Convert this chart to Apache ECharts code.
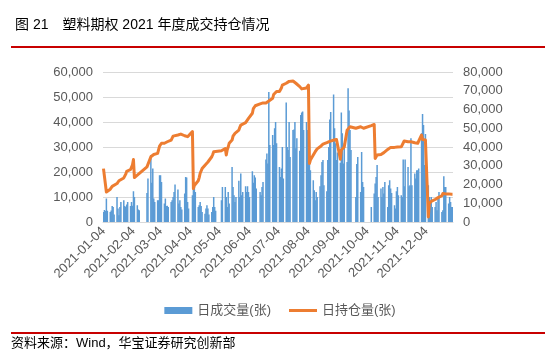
<!DOCTYPE html>
<html><head><meta charset="utf-8">
<script src="https://cdn.jsdelivr.net/npm/echarts/dist/echarts.min.js"></script>
<style>html,body{margin:0;padding:0;background:#fff}#c{width:560px;height:357px}</style>
</head><body><div id="c"></div>
<script>
// Trading days (day of month) for each month of 2021
const tdJan=[4,5,6,7,8,11,12,13,14,15,18,19,20,21,22,25,26,27,28,29];
const tdFeb=[1,2,3,4,5,8,9,10,18,19,22,23,24,25,26];
const tdMar=[1,2,3,4,5,8,9,10,11,12,15,16,17,18,19,22,23,24,25,26,29,30,31];
const tdApr=[1,2,6,7,8,9,12,13,14,15,16,19,20,21,22,23,26,27,28,29,30];
const tdMay=[6,7,10,11,12,13,14,17,18,19,20,21,24,25,26,27,28,31];
const tdJun=[1,2,3,4,7,8,9,10,11,15,16,17,18,21,22,23,24,25,28,29,30];
const tdJul=[1,2,5,6,7,8,9,12,13,14,15,16,19,20,21,22,23,26,27,28,29,30];
const tdAug=[2,3,4,5,6,9,10,11,12,13,16,17,18,19,20,23,24,25,26,27,30,31];
const tdSep=[1,2,3,6,7,8,9,10,13,14,15,16,17,22,23,24,27,28,29,30];
const tdOct=[8,11,12,13,14,15,18,19,20,21,22,25,26,27,28,29];
const tdNov=[1,2,3,4,5,8,9,10,11,12,15,16,17,18,19,22,23,24,25,26,29,30];
const tdDec=[1,2,3,6,7,8,9,10,13,14,15,16,17,20,21,22,23,24,27,28,29,30,31];

// 日成交量(张)
const volJan=[4000,4800,4400,9400,4500,4000,4600,6400,6000,3000,10000,5400,2700,6000,8000,8700,6400,6000,7000,8000];
const volFeb=[6400,8000,6500,12300,10000,6700,5000,4700,11600,17400,26800,15700,21400,9400,8000];
const volMar=[8700,8700,18700,18700,16000,7400,9400,6400,6500,6000,8000,8700,10000,12000,15000,13000,7400,8700,6000,5000,11400,18000,17800];
const volApr=[8000,5400,10700,13400,14700,12000,6000,6700,8000,6400,4000,3300,5400,6700,5400,3000,4000,6000,10000,6000,4500];
const volMay=[8700,14000,14000,10000,6000,12000,7400,22000,14000,10700,8000,10000,16500,10000,19400,10700,12000,14300];
const volJun=[12000,14300,12000,10000,20300,15700,18700,17800,13400,12000,10700,14000,16000,25000,27400,23400,52000,30800,34800,30800,37500];
const volJul=[40000,31500,22000,18000,21400,30000,17400,47800,30000,28800,40000,26000,36800,37000,40000,29500,33500,28500,42800,43800,44200,36800];
const volAug=[40000,36800,36000,32800,20700,16700,12700,8700,12000,10000,14300,18700,24000,24800,14700,12300,24800,30000,41000,44000,51000,37500];
const volSep=[31500,24800,27800,23700,43800,35500,23400,31500,24000,53500,44600,36800,28800,10000,23200,26000,12000,28000,16000,14000];
const volOct=[6000,11400,15400,18000,22800,10000,13400,10000,14000,11400,16000,6000,14700,16700,13400,11600];
const volNov=[6700,5400,12300,14000,10700,10700,10000,25000,14300,25000,22000,14300,14700,33500,14700,19400,17400,20700,20700,21400,35500,43200];
const volDec=[38800,22800,35200,14700,10000,8000,10000,6000,6000,8000,4700,10000,12000,4000,4700,18300,14000,14000,7400,10000,8000,6000,6000];

// 日持仓量(张)
const oiJan=[28500,28800,29200,16000,16500,17500,18000,19000,19600,20000,20500,21500,22000,22600,22600,23500,24000,25500,27000,27600];
const oiFeb=[28000,28500,30500,33300,23700,25000,25500,25900,29400,29000,34800,35200,35700,36000,36600];
const oiMar=[36600,37000,40500,41000,42000,42000,42300,42300,42800,43000,43700,44500,45800,46000,46400,46400,46400,46900,46900,46500,46000,46000,45500];
const oiApr=[45500,46000,48200,17800,19500,20500,22000,23700,26000,26800,28500,30300,30500,31200,32000,33000,34800,36000,37500,37500,37800];
const oiMay=[38000,38000,39200,35700,38500,40000,42000,43700,45800,46500,47300,48000,49000,50500,51700,52200,52600,53000];
const oiJun=[53000,53500,55300,56000,58000,60500,61500,62000,62000,63000,63300,63300,63500,63500,64000,64200,64500,64200,66000,68000,68700];
const oiJul=[69000,69600,69600,70000,71500,73000,74000,74000,74500,74900,75000,74900,75200,74900,74500,74000,74500,72200,71500,71000,71500,71000];
const oiAug=[71500,72500,73000,31200,33000,35700,36600,37500,38400,39000,40100,40500,41000,41500,42000,42300,42800,42800,43000,43700,43700,44000];
const oiSep=[43700,44000,43700,33500,38400,38800,39200,40000,49000,49500,50000,50800,50800,50000,49000,50800,50800,51000,50800,50000];
const oiOct=[51400,52000,33900,34500,35700,35700,36000,36600,36600,37000,37500,38700,39000,39500,39800,39800];
const oiNov=[39800,39800,40000,40000,40100,40100,40000,40100,43200,43700,42800,42500,42300,42800,42300,42300,42800,42500,42000,42800,46400,44000];
const oiDec=[43700,43500,43700,2700,9800,10700,11000,11600,12000,12500,12800,13000,13400,14000,15200,15000,15200,15000,15000,14800,15000,14800,14800];

const months=['01','02','03','04','05','06','07','08','09','10','11','12'];
const tds=[tdJan,tdFeb,tdMar,tdApr,tdMay,tdJun,tdJul,tdAug,tdSep,tdOct,tdNov,tdDec];
const vols=[volJan,volFeb,volMar,volApr,volMay,volJun,volJul,volAug,volSep,volOct,volNov,volDec];
const ois=[oiJan,oiFeb,oiMar,oiApr,oiMay,oiJun,oiJul,oiAug,oiSep,oiOct,oiNov,oiDec];
const pad=n=>(n<10?'0':'')+n;
const volMap={},oiMap={};
months.forEach((m,i)=>tds[i].forEach((d,j)=>{const k='2021-'+m+'-'+pad(d);volMap[k]=vols[i][j];oiMap[k]=ois[i][j];}));
const dates=[];
for(let t=Date.UTC(2021,0,4);t<=Date.UTC(2021,11,31);t+=86400000){
  const dt=new Date(t);dates.push(dt.getUTCFullYear()+'-'+pad(dt.getUTCMonth()+1)+'-'+pad(dt.getUTCDate()));
}
const volData=dates.map(d=>d in volMap?volMap[d]:'-');
const oiData=dates.map(d=>d in oiMap?oiMap[d]:'-');
const fmt=v=>String(v).replace(/\B(?=(\d{3})+(?!\d))/g,',');
const isTick=(i,v)=>v.slice(8)==='04';
const FONT='"Liberation Sans", Arial, "Noto Sans CJK SC", sans-serif';

const chart=echarts.init(document.getElementById('c'),null,{renderer:'canvas'});
chart.setOption({
  animation:false,
  textStyle:{fontFamily:FONT},
  title:{text:'图 21\u3000塑料期权 2021 年度成交持仓情况',left:10,top:13,textStyle:{fontSize:14,fontWeight:'normal',color:'#000',fontFamily:FONT}},
  graphic:[
    {type:'rect',shape:{x:11,y:46,width:534,height:2},style:{fill:'#C80000'},silent:true},
    {type:'rect',shape:{x:11,y:332,width:534,height:2},style:{fill:'#C80000'},silent:true},
    {type:'text',left:11,top:337,style:{text:'资料来源：Wind，华宝证券研究创新部',fontSize:13,fill:'#000',fontFamily:FONT}}
  ],
  grid:{left:103,right:107,top:72,bottom:135,containLabel:false},
  legend:{top:299,left:'center',itemWidth:28,itemHeight:7,itemGap:18,symbolKeepAspect:true,
    textStyle:{fontSize:13,color:'#595959',fontFamily:FONT},
    data:[{name:'日成交量(张)',icon:'rect'},{name:'日持仓量(张)',icon:'path://M0,0H28V3H0Z'}]},
  xAxis:{type:'category',data:dates,boundaryGap:true,
    axisLine:{lineStyle:{color:'#D9D9D9',width:1}},
    axisTick:{interval:isTick,length:5,lineStyle:{color:'#D9D9D9'}},
    axisLabel:{interval:isTick,rotate:45,margin:7,fontSize:13,color:'#595959',fontFamily:FONT},
    splitLine:{show:false}},
  yAxis:[
    {type:'value',min:0,max:60000,interval:10000,position:'left',
     axisLine:{show:false},axisTick:{show:false},
     axisLabel:{formatter:fmt,fontSize:13,color:'#595959',margin:10,fontFamily:FONT},
     splitLine:{lineStyle:{color:'#D9D9D9',width:1}}},
    {type:'value',min:0,max:80000,interval:10000,position:'right',
     axisLine:{show:false},axisTick:{show:false},
     axisLabel:{formatter:fmt,fontSize:13,color:'#595959',margin:10,fontFamily:FONT},
     splitLine:{show:false}}
  ],
  series:[
    {name:'日成交量(张)',type:'bar',data:volData,yAxisIndex:0,barWidth:1.5,
     itemStyle:{color:'#5B9BD5'},z:2},
    {name:'日持仓量(张)',type:'line',data:oiData,yAxisIndex:1,connectNulls:true,
     symbol:'none',smooth:false,lineStyle:{color:'#ED7D31',width:3,join:'round'},
     itemStyle:{color:'#ED7D31'},z:3}
  ]
});
</script></body></html>
